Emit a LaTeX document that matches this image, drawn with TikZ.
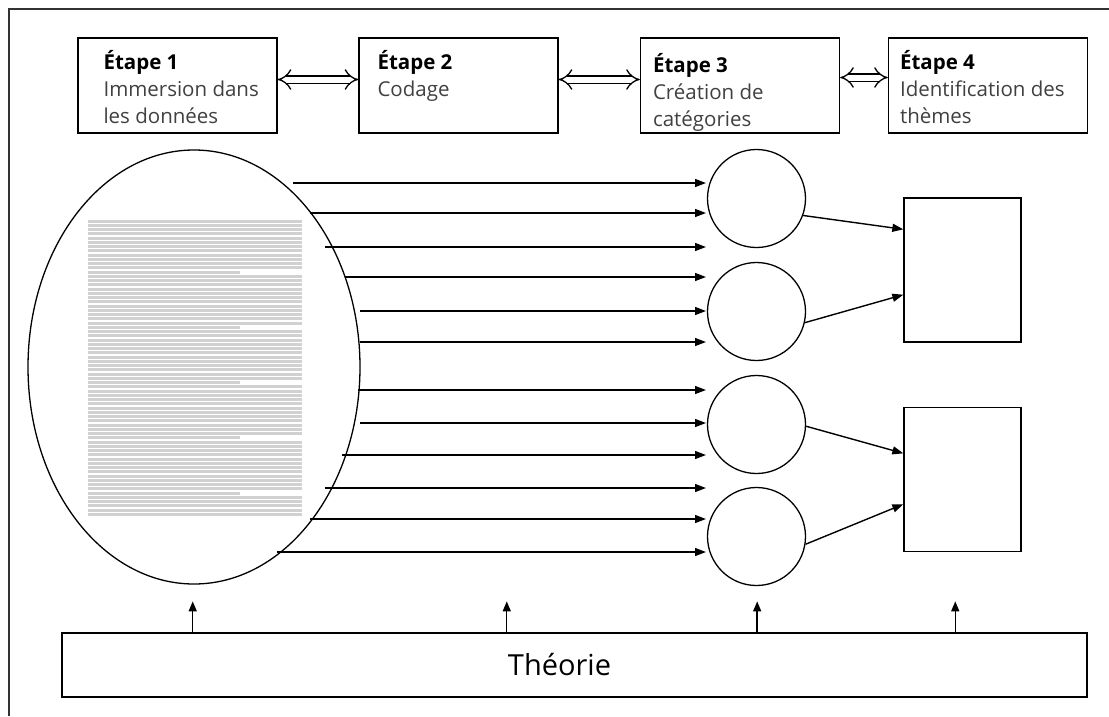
\documentclass[tikz,border=0pt]{standalone}
\usepackage{fontspec}
\setmainfont{Open Sans}
\usetikzlibrary{shapes.geometric,arrows.meta,calc}

\tikzset{
  stepbox/.style={draw, line width=1.3pt, minimum width=199pt, minimum height=95pt, inner sep=0pt},
  steptext/.style={anchor=north west, inner sep=0pt, align=left, text=black!75,
    font=\fontsize{20.5}{27}\selectfont},
  catnode/.style={draw, circle, line width=1.3pt, minimum size=98pt, inner sep=0pt},
  themebox/.style={draw, line width=1.3pt, minimum width=117pt, minimum height=144pt, inner sep=0pt},
  link/.style={-{Triangle[length=11pt,width=8pt]}, line width=1.4pt},
  uplink/.style={-{Triangle[length=10pt,width=8pt]}, line width=1.4pt},
  dblarrow/.style={double, double distance=6pt, line width=1.3pt,
    {Implies[length=9pt,width=20pt]}-{Implies[length=9pt,width=20pt]}},
}

\begin{document}
\begin{tikzpicture}[x=1pt,y=-1pt]
  \useasboundingbox (0,0) rectangle (1109,716);
  % frame
  \draw[line width=1.3pt, black!80] (9,716) -- (9,9) -- (1109,9);

  % the four steps
  \node[stepbox] (b1) at (177.5,85.5) {};
  \node[stepbox] (b2) at (458.5,85.5) {};
  \node[stepbox] (b3) at (740,85.5) {};
  \node[stepbox] (b4) at (988,85.5) {};
  \node[steptext] (t1) at ([xshift=26pt,yshift=-13pt]b1.north west)
    {\textcolor{black}{\textbf{Étape 1}}\\Immersion dans\\les données};
  \node[steptext] (t2) at ([xshift=19pt,yshift=-13pt]b2.north west)
    {\textcolor{black}{\textbf{Étape 2}}\\Codage};
  \node[steptext] (t3) at ([xshift=13pt,yshift=-16pt]b3.north west)
    {\textcolor{black}{\textbf{Étape 3}}\\Création de\\catégories};
  \node[steptext] (t4) at ([xshift=12pt,yshift=-13pt]b4.north west)
    {\textcolor{black}{\textbf{Étape 4}}\\Identification des\\thèmes};
  \draw[dblarrow] ([yshift=6pt]b1.east) -- ([yshift=6pt]b2.west);
  \draw[dblarrow] ([yshift=6pt]b2.east) -- ([yshift=6pt]b3.west);
  \draw[dblarrow] ([yshift=8pt]b3.east) -- ([yshift=8pt]b4.west);

  % data
  \node[draw, ellipse, line width=1.3pt, minimum width=332pt, minimum height=434pt, inner sep=0pt] (data) at (194,367) {};
  \foreach \i in {0,...,69}{
    \pgfmathsetmacro\e{mod(\i,13)==12 ? 240 : 302}
    \draw[black!18, line width=3pt] (88,{221+4.25*\i}) -- (\e,{221+4.25*\i});
  }
  \foreach \y/\x [count=\i] in {183/293,213/310,247/325,277/345,311/360,342/360,
      390/358,423/360,455/342,488/325,519/310,552/277}{
    \coordinate (s\i) at (\x,\y);
    \coordinate (e\i) at (706,\y);
    \draw[link] (s\i) -- (e\i);
  }

  % categories
  \node[catnode] (c1) at (756.5,198.5) {};
  \node[catnode] (c2) at (756.5,311.5) {};
  \node[catnode] (c3) at (756.5,424.5) {};
  \node[catnode] (c4) at (756.5,536.5) {};

  % themes
  \node[themebox] (r1) at (962.5,270) {};
  \node[themebox] (r2) at (962.5,479.5) {};
  \draw[link] (c1.-20) -- ($(r1.north west)!0.22!(r1.south west)$);
  \draw[link] (c2.-13) -- ($(r1.north west)!0.67!(r1.south west)$);
  \draw[link] (c3.-2) -- ($(r2.north west)!0.32!(r2.south west)$);
  \draw[link] (c4.-9) -- ($(r2.north west)!0.67!(r2.south west)$);

  % theory
  \node[draw, line width=1.3pt, minimum width=1025pt, minimum height=64pt, inner sep=0pt] (th) at (574.5,665) {};
  \node[font=\fontsize{29}{35}\selectfont, inner sep=0pt] (thl) at (559.5,665) {Théorie};
  \foreach \t [count=\i] in {0.128,0.434,0.678,0.871}{
    \coordinate (u\i) at ($(th.north west)!\t!(th.north east)$);
    \draw[uplink] (u\i) -- ++(0,-31);
  }
\end{tikzpicture}
\end{document}
